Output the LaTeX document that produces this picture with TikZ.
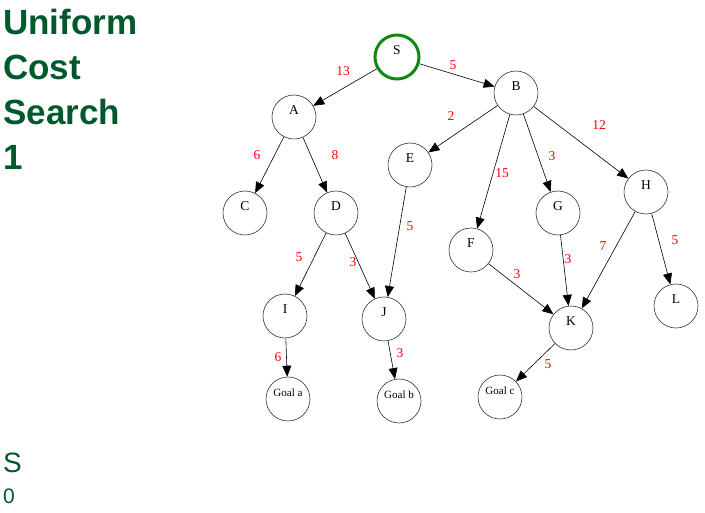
\documentclass[tikz,border=0pt]{standalone}
\usepackage{fontspec}
\setmainfont{Liberation Serif}
\newfontfamily\titlefont{Liberation Sans}
\usetikzlibrary{arrows.meta}
\definecolor{titlegreen}{HTML}{00592C}
\definecolor{ringgreen}{HTML}{118811}
\begin{document}
\begin{tikzpicture}[x=1pt,y=-1pt,
  st/.style={circle,draw=black!80,line width=0.6pt,minimum size=44pt,inner sep=0pt},
  lbl/.style={font=\fontsize{13.5}{13.5}\selectfont,yshift=7pt},
  glbl/.style={font=\fontsize{11}{11}\selectfont,yshift=6pt},
  edge/.style={-{Triangle[length=11pt,width=9pt]},line width=0.6pt},
  cost/.style={text=red,font=\fontsize{13.5}{13.5}\selectfont,inner sep=0pt}]
\useasboundingbox (0,0) rectangle (705,513);
% title
\node[anchor=north west,inner sep=0pt,text=titlegreen,font=\titlefont\bfseries\fontsize{35}{45}\selectfont,align=left] (title) at (3,8.5) {Uniform\\Cost\\Search\\1};
\node[anchor=west,inner sep=0pt,text=titlegreen,font=\titlefont\fontsize{28}{28}\selectfont] (qs) at (3,463) {S};
\node[anchor=west,inner sep=0pt,text=titlegreen,font=\titlefont\fontsize{21}{21}\selectfont] (qn) at (3,496) {0};
% nodes
\node[st,draw=ringgreen,line width=3pt] (S) at (397,57) {};
\node[lbl] at (S) {S};
\node[st] (A) at (294,117) {}; \node[lbl] at (A) {A};
\node[st] (B) at (516,93) {}; \node[lbl] at (B) {B};
\node[st] (C) at (245,213) {}; \node[lbl] at (C) {C};
\node[st] (D) at (336,213) {}; \node[lbl] at (D) {D};
\node[st] (E) at (410,165) {}; \node[lbl] at (E) {E};
\node[st] (F) at (471,250) {}; \node[lbl] at (F) {F};
\node[st] (G) at (558,213) {}; \node[lbl] at (G) {G};
\node[st] (H) at (646,192) {}; \node[lbl] at (H) {H};
\node[st] (I) at (285,316) {}; \node[lbl] at (I) {I};
\node[st] (J) at (384,319) {}; \node[lbl] at (J) {J};
\node[st] (K) at (571,328) {}; \node[lbl] at (K) {K};
\node[st] (L) at (676,306) {}; \node[lbl] at (L) {L};
\node[st] (Ga) at (288,399) {}; \node[glbl] at (Ga) {Goal a};
\node[st] (Gb) at (399,401) {}; \node[glbl] at (Gb) {Goal b};
\node[st] (Gc) at (500,397) {}; \node[glbl] at (Gc) {Goal c};
% edges
\draw[edge] (S) -- (A);
\draw[edge] (S) -- (B);
\draw[edge] (A) -- (C);
\draw[edge] (A) -- (D);
\draw[edge] (B) -- (E);
\draw[edge] (B) -- (F);
\draw[edge] (B) -- (G);
\draw[edge] (B) -- (H);
\draw[edge] (D) -- (I);
\draw[edge] (D) -- (J);
\draw[edge] (E) -- (J);
\draw[edge] (F) -- (K);
\draw[edge] (G) -- (K);
\draw[edge] (H) -- (K);
\draw[edge] (H) -- (L);
\draw[edge] (I) -- (Ga);
\draw[edge] (J) -- (Gb);
\draw[edge] (K) -- (Gc);
% costs
\node[cost] (c1) at (343,71) {13};
\node[cost] (c2) at (453,65) {5};
\node[cost] (c3) at (257,155) {6};
\node[cost] (c4) at (335,155) {8};
\node[cost] (c5) at (451,116) {2};
\node[cost] (c6) at (502,173) {15};
\node[cost] (c7) at (552,156) {3};
\node[cost] (c8) at (599,125) {12};
\node[cost] (c9) at (410,226) {5};
\node[cost] (c10) at (299,257) {5};
\node[cost] (c11) at (353,262) {3};
\node[cost] (c12) at (517,274) {3};
\node[cost] (c13) at (568,259) {3};
\node[cost] (c14) at (603,246) {7};
\node[cost] (c15) at (675,240) {5};
\node[cost] (c16) at (278,357) {6};
\node[cost] (c17) at (400,353) {3};
\node[cost] (c18) at (548,364) {5};
\end{tikzpicture}
\end{document}
